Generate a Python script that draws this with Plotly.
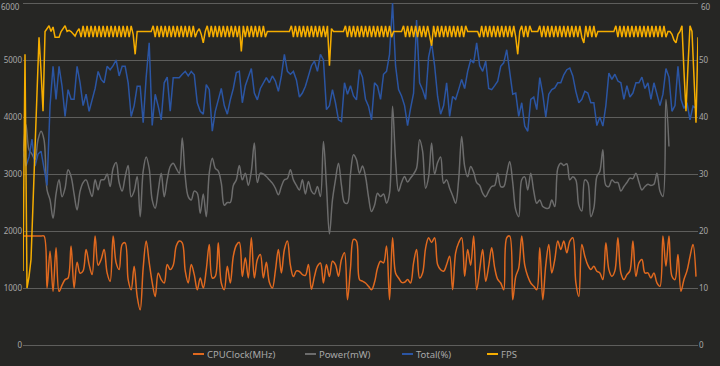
import plotly.graph_objects as go

# ---------------- data ----------------
series_names = ["CPUClock(MHz)", "Power(mW)", "Total(%)", "FPS"]

fps = [
    13, 51, 10, 12, 15, 24, 34, 44, 54, 48,
    41, 55, 55.5, 56, 55, 55.8, 54, 54, 54, 55,
    55.5, 56, 55, 55.2, 55, 54.5, 54.2, 55, 55.5, 54,
    56, 54, 56, 54, 56, 54, 56, 54, 56, 54,
    56, 54, 56, 54, 56, 54, 56, 54, 56, 54,
    56, 54, 56, 54, 56, 54.5, 51, 55, 55, 55,
    55, 55, 55, 55, 55, 56, 54, 56, 54, 56,
    54, 56, 54, 56, 54, 56, 54, 56, 54, 56,
    54, 56, 54, 56, 54, 56, 54, 55, 55.5, 54.5,
    53, 55, 56, 54, 56, 54, 56, 54, 56, 54,
    56, 54, 56, 54, 56, 54, 56, 54, 56, 51.5,
    56, 54, 56, 54, 56, 54, 56, 54, 56, 54,
    56, 54, 55, 55, 55, 55, 55, 55, 55, 55,
    55, 55, 55, 55, 56, 54, 56, 54, 56, 54,
    56, 54, 56, 54, 56, 54, 56, 54, 56, 54,
    56, 54, 56, 49, 55.5, 55, 55, 55, 55, 55,
    55, 56, 54, 56, 54, 56, 54, 56, 54, 56,
    54, 56, 54, 56, 54, 56, 54, 56, 54, 56,
    54, 56, 54, 56, 54, 55, 55, 55, 55, 55,
    56, 54, 56, 54, 56, 54, 56, 54, 56, 54,
    56, 54, 56, 54, 52.5, 56, 54, 56, 54, 56,
    54, 56, 54, 56, 54, 56, 54, 56, 54, 56,
    54, 56, 55, 55, 55, 55, 55, 55, 54, 56,
    54, 56, 54, 56, 54, 56, 54, 56, 54, 56,
    54, 56, 54, 56, 54, 56, 54, 51, 55, 56,
    54, 56, 54, 56, 55, 55, 55, 55, 56, 54,
    56, 54, 56, 54, 56, 54, 56, 54, 56, 54,
    56, 54, 56, 54, 56, 54, 56, 54, 56, 54,
    53, 56, 54, 56, 54, 56, 54, 55, 55, 55,
    55, 55, 55, 55, 55, 55, 56, 54, 56, 54,
    56, 54, 56, 54, 56, 54, 56, 54, 56, 54,
    56, 54, 56, 54, 56, 54, 56, 54, 56, 54,
    56, 54, 55, 55, 54.5, 53.5, 53, 54.5, 55, 56,
    48, 41, 49, 56, 55, 47, 39, 54,
]

cpu_clock = [
    1911, 1911, 1911, 1911, 1911, 1911, 1911, 1911, 1000, 1646,
    941, 1705, 941, 1050, 1147, 1176, 1735, 1000, 1450, 1260,
    1300, 1676, 1411, 1235, 1911, 1400, 1500, 1676, 1264, 1117,
    1911, 1441, 1323, 1764, 1793, 1147, 970, 1382, 853, 617,
    1352, 1823, 1450, 1100, 853, 1264, 1147, 1088, 1411, 1323,
    1400, 1735, 1823, 1793, 1300, 1088, 1411, 1235, 970, 1176,
    1000, 1323, 1764, 1176, 1205, 1793, 1088, 970, 1382, 1088,
    1558, 1750, 1800, 1200, 1529, 1176, 1882, 1176, 1500, 1588,
    1176, 1450, 1100, 1000, 1300, 1676, 1264, 1676, 1823, 1400,
    1200, 1300, 1290, 1235, 1220, 1411, 980, 1200, 1382, 1440,
    1088, 1411, 1200, 1470, 1411, 1205, 1500, 1617, 794, 1350,
    1852, 1823, 1147, 1120, 1088, 1030, 970, 1100, 1352, 1470,
    1441, 1735, 794, 1882, 1264, 1176, 1100, 1100, 1147, 1088,
    1441, 1676, 1176, 1264, 1700, 1882, 1800, 1882, 1411, 1320,
    1294, 1411, 1558, 970, 1617, 1793, 1882, 1205, 1676, 1400,
    1911, 970, 1323, 1676, 1117, 1382, 1705, 1352, 1150, 1088,
    970, 1882, 1911, 794, 1200, 1350, 1911, 1400, 1205, 1088,
    1030, 970, 1705, 794, 1400, 1764, 1264, 1500, 1823, 1676,
    1823, 1617, 1823, 1882, 1100, 853, 1764, 1558, 1400, 1323,
    1382, 1294, 1264, 1147, 1793, 1323, 1205, 1300, 1882, 1264,
    1147, 1235, 1300, 1823, 1205, 1441, 1500, 1264, 1264, 1176,
    1264, 1088, 1029, 1911, 1382, 1911, 1205, 1147, 1588, 941,
    1150, 1300, 1550, 1764, 1200,
]

power_mw = [
    3308, 3865, 3425, 3350, 3250, 3600, 3750, 3600, 2721, 2545,
    2223, 2650, 2897, 2600, 2750, 3073, 2956, 2650, 2370, 2700,
    2850, 2897, 2750, 2604, 2897, 2721, 2897, 2900, 3000, 2780,
    3100, 3200, 2850, 2700, 2950, 3150, 2600, 2700, 2956, 2252,
    3050, 3300, 3100, 2545, 2400, 2700, 3015, 2600, 2900, 3132,
    3190, 3100, 3015, 3630, 2956, 2604, 2545, 2700, 2663, 2311,
    2650, 2252, 3015, 3278, 3100, 3050, 2839, 2450, 2500, 2500,
    2800, 2897, 3150, 2897, 3015, 2800, 3050, 3542, 2850, 3015,
    3000, 2956, 2897, 2839, 2750, 2634, 2780, 2900, 2920, 3073,
    2897, 2800, 2721, 2897, 2650, 2868, 2700, 2650, 2780, 2604,
    3572, 2800, 1950, 2545, 2897, 3190, 2800, 2500, 2487, 3000,
    3337, 3249, 3015, 3140, 2956, 2600, 2340, 2450, 2663, 2604,
    2650, 2487, 2663, 4188, 3249, 2700, 2850, 2956, 2860, 2930,
    3000, 3100, 3601, 3400, 2750, 2950, 3542, 3000, 3200, 3300,
    2839, 2897, 2750, 2620, 2487, 2900, 3660, 3132, 2950, 3132,
    3030, 2850, 2800, 2663, 2600, 2700, 2780, 2800, 3015, 2780,
    2780, 3000, 3220, 2850, 2370, 2252, 2900, 2950, 2721, 3015,
    2700, 2487, 2545, 2428, 2400, 2400, 2545, 2428, 3100, 3190,
    3150, 3180, 2897, 2950, 2897, 2450, 2350, 2897, 2850, 2252,
    2400, 2956, 3050, 3425, 2800, 2780, 2897, 2850, 2850, 2700,
    2780, 2850, 2927, 2920, 3015, 2860, 2721, 2780, 2820, 2800,
    2820, 3015, 2700, 2604, 4305, 3484,
]

total_pct = [
    34, 31.4, 33, 36.1, 31.4, 33.5, 34, 30.9, 28, 42,
    48.9, 43.1, 48.9, 45.4, 40.1, 44.8, 43.1, 43.1, 48.9, 46,
    42, 44, 41, 43, 45, 48, 46.6, 46, 48.9, 48.3,
    49, 50, 47.2, 48.9, 48.9, 46, 40.1, 42, 45.4, 45.4,
    39, 47, 53, 38.5, 44, 41.9, 39.5, 46, 47, 41,
    46.9, 46.9, 46.9, 47.5, 48, 47.2, 48, 47.4, 42.5, 41,
    40.5, 45.7, 44.8, 37.5, 41, 43, 45, 42, 40.5, 43,
    45, 47.8, 48, 42.5, 45.5, 47, 48.5, 44.2, 43, 45,
    46, 46.9, 46, 47.2, 46.3, 44.5, 47.2, 51, 48, 47.5,
    48, 46.5, 43.5, 44.2, 45.4, 47, 49, 49.8, 48, 51,
    50, 41.3, 42, 44.8, 42.5, 39.5, 39.2, 46, 44, 45.5,
    43.7, 43, 48.3, 47, 43.1, 41.9, 39.5, 46, 45.4, 43.1,
    47.5, 48, 51, 60, 49, 44.8, 43.7, 42, 38.5, 41.5,
    44.2, 57, 46, 44.8, 43.1, 50.5, 53, 49, 43.6, 40.5,
    42, 46, 40.1, 43.6, 43.1, 44.8, 46.6, 45, 48, 50,
    49.5, 53, 49, 48, 49.8, 45, 44.8, 45.5, 46.3, 48.9,
    49.5, 51.8, 48, 44, 44.2, 40.1, 42.5, 38.4, 37.5, 43.1,
    43.5, 41.3, 46.9, 44, 40, 44, 44.8, 45.1, 46, 46,
    47.4, 48.3, 48.6, 47.2, 44.5, 42.5, 43.1, 44.5, 44.2, 42.5,
    42.5, 38.5, 40, 38.4, 42, 47.7, 46.6, 47.5, 46.3, 46,
    43.1, 45.5, 43.5, 44.2, 46, 46, 47, 45, 46, 43.1,
    46, 44, 42, 44, 48.5, 47, 41, 42, 48.9, 43.1,
    41.5, 42.5, 39.5, 41.9, 41.5,
]

left_ticks = [0, 1000, 2000, 3000, 4000, 5000, 6000]
right_ticks = [0, 10, 20, 30, 40, 50, 60]

# time bases: FPS logged every second, sensors every 1.5 s
FPS_STEP = 1.0
SENSOR_STEP = 1.5
fps_time = [i * FPS_STEP for i in range(len(fps))]
sensor_time = [j * SENSOR_STEP for j in range(len(cpu_clock))]

colors = {
    "CPUClock(MHz)": "#e0691f",
    "Power(mW)": "#6c6c6c",
    "Total(%)": "#2b55a3",
    "FPS": "#f5ad00",
}

BG = "#262624"
GRID = "#5e5e5c"
TXT = "#a8a8a8"

W, H = 720, 366
ML, MR, MT, MB = 23, 22, 0, 21
# the top grid line (6000 / 60) sits 3 px below the top edge of the figure
plot_h = H - MT - MB
TOP_PAD = 3
Y_TOP = 6000 * plot_h / (plot_h - TOP_PAD)
Y2_TOP = 60 * plot_h / (plot_h - TOP_PAD)

fig = go.Figure()
fig.add_trace(go.Scatter(
    x=sensor_time, y=cpu_clock, mode="lines", name=series_names[0],
    line=dict(color=colors["CPUClock(MHz)"], width=1.5, shape="spline", smoothing=1.0),
    yaxis="y"))
fig.add_trace(go.Scatter(
    x=sensor_time[:len(power_mw)], y=power_mw, mode="lines", name=series_names[1],
    line=dict(color=colors["Power(mW)"], width=1.5, shape="spline", smoothing=1.0),
    yaxis="y"))
fig.add_trace(go.Scatter(
    x=sensor_time, y=total_pct, mode="lines", name=series_names[2],
    line=dict(color=colors["Total(%)"], width=1.5),
    yaxis="y2"))
fig.add_trace(go.Scatter(
    x=fps_time, y=fps, mode="lines", name=series_names[3],
    line=dict(color=colors["FPS"], width=1.5),
    yaxis="y2"))

# manual legend (short line swatches like the original)
plot_w = W - ML - MR


def px_x(px):
    return (px - ML) / plot_w


def px_y(py):
    return (H - MB - py) / plot_h


legend_items = [
    ("CPUClock(MHz)", 193),
    ("Power(mW)", 305),
    ("Total(%)", 402),
    ("FPS", 487),
]
shapes = []
annotations = []
LEG_Y = 354
for name, x0 in legend_items:
    shapes.append(dict(type="line", xref="paper", yref="paper",
                       x0=px_x(x0), x1=px_x(x0 + 11), y0=px_y(LEG_Y), y1=px_y(LEG_Y),
                       line=dict(color=colors[name], width=2)))
    annotations.append(dict(xref="paper", yref="paper", x=px_x(x0 + 12), y=px_y(LEG_Y),
                            text=name, showarrow=False, xanchor="left", yanchor="middle",
                            font=dict(size=9.5, color=TXT, family="Noto Sans")))

# the top tick labels would be clipped at the figure edge: draw them just inside
left_text = [str(v) for v in left_ticks]
right_text = [str(v) for v in right_ticks]
annotations.append(dict(xref="paper", yref="paper", x=0, y=1, xanchor="right", yanchor="top",
                        xshift=-2, yshift=0, borderpad=0, showarrow=False, text=left_text[-1],
                        font=dict(size=8, color=TXT, family="Noto Sans")))
annotations.append(dict(xref="paper", yref="paper", x=1, y=1, xanchor="left", yanchor="top",
                        xshift=2, yshift=0, borderpad=0, showarrow=False, text=right_text[-1],
                        font=dict(size=8, color=TXT, family="Noto Sans")))
left_text[-1] = ""
right_text[-1] = ""

fig.update_layout(
    width=W, height=H, autosize=False,
    margin=dict(l=ML, r=MR, t=MT, b=MB, pad=0),
    paper_bgcolor=BG, plot_bgcolor=BG,
    showlegend=False,
    font=dict(family="Noto Sans", size=8, color=TXT),
    xaxis=dict(range=[0, len(fps) - 1], showgrid=False, zeroline=False,
               showticklabels=False, showline=False, ticks="", automargin=False),
    yaxis=dict(range=[0, Y_TOP], tickvals=left_ticks, ticktext=left_text,
               showgrid=True, gridcolor=GRID, gridwidth=1,
               zeroline=True, zerolinecolor=GRID, zerolinewidth=1, automargin=False,
               ticklabeloverflow="allow",
               showline=False, ticks="", tickfont=dict(size=8, color=TXT)),
    yaxis2=dict(range=[0, Y2_TOP], tickvals=right_ticks, ticktext=right_text,
                overlaying="y", side="right", showgrid=False, zeroline=False, automargin=False,
                ticklabeloverflow="allow",
                showline=False, ticks="", tickfont=dict(size=8, color=TXT)),
    shapes=shapes,
    annotations=annotations,
)

fig.write_html(
    "out.html",
    config={"displayModeBar": False},
    post_script="document.body.style.margin='0';document.body.style.padding='0';"
                "document.body.style.background='" + BG + "';",
)
